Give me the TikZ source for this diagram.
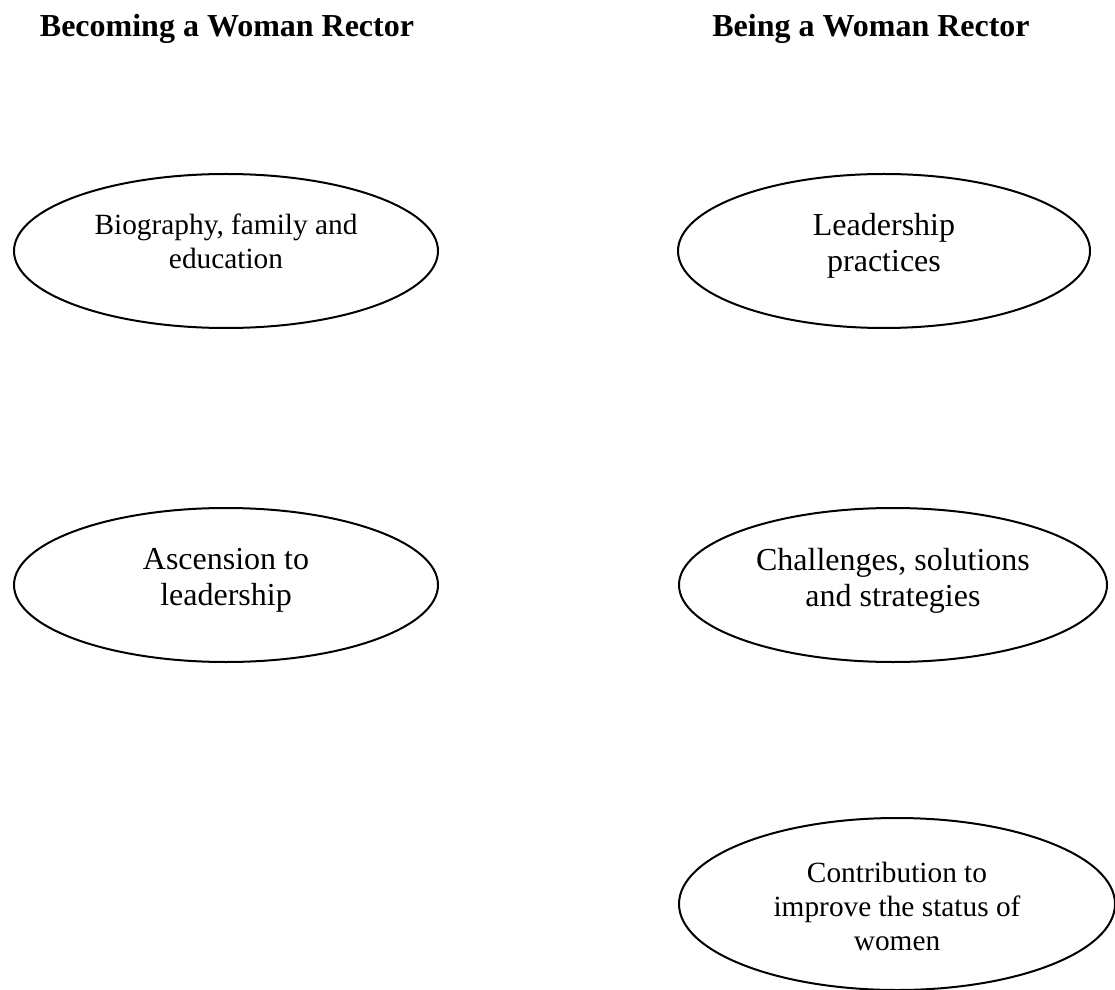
\documentclass[tikz,border=0pt]{standalone}
\usepackage{fontspec}
\setmainfont{Liberation Serif}
\usetikzlibrary{shapes.geometric, positioning}
\tikzset{bubble/.style={draw, ellipse, line width=0.75pt, inner sep=0pt, outer sep=0pt}}

\begin{document}
\begin{tikzpicture}[x=0.375pt, y=-0.375pt,
  title/.style={font=\fontsize{12}{13.5}\selectfont\bfseries, inner sep=0pt, anchor=base},
  big/.style={font=\fontsize{12}{13.5}\selectfont, align=center, inner sep=0pt},
  small/.style={font=\fontsize{11}{12.75}\selectfont, align=center, inner sep=0pt}]
\useasboundingbox (0,0) rectangle (1115,990);
% column titles
\node[title] (becoming) at (227,37) {Becoming a Woman Rector};
\node[title] (being) at (871,37) {Being a Woman Rector};
% left column
\node[bubble, minimum width=159pt, minimum height=57.75pt] (bio) at (226,251) {};
\node[small, below=14.6pt of bio.north] (biotext) {Biography, family and\\education};
\node[bubble, minimum width=159pt, minimum height=57.75pt] (asc) at (226,585) {};
\node[big, below=15pt of asc.north] (asctext) {Ascension to\\leadership};
% right column
\node[bubble, minimum width=154.5pt, minimum height=57.75pt] (lead) at (884,251) {};
\node[big, below=14.6pt of lead.north] (leadtext) {Leadership\\practices};
\node[bubble, minimum width=160.5pt, minimum height=57.75pt] (chal) at (893,585) {};
\node[big, below=15pt of chal.north] (chaltext) {Challenges, solutions\\and strategies};
\node[bubble, minimum width=163.5pt, minimum height=64.5pt] (contr) at (897,904) {};
\node[small, below=16.5pt of contr.north] (contrtext) {Contribution to\\improve the status of\\women};
\end{tikzpicture}
\end{document}
